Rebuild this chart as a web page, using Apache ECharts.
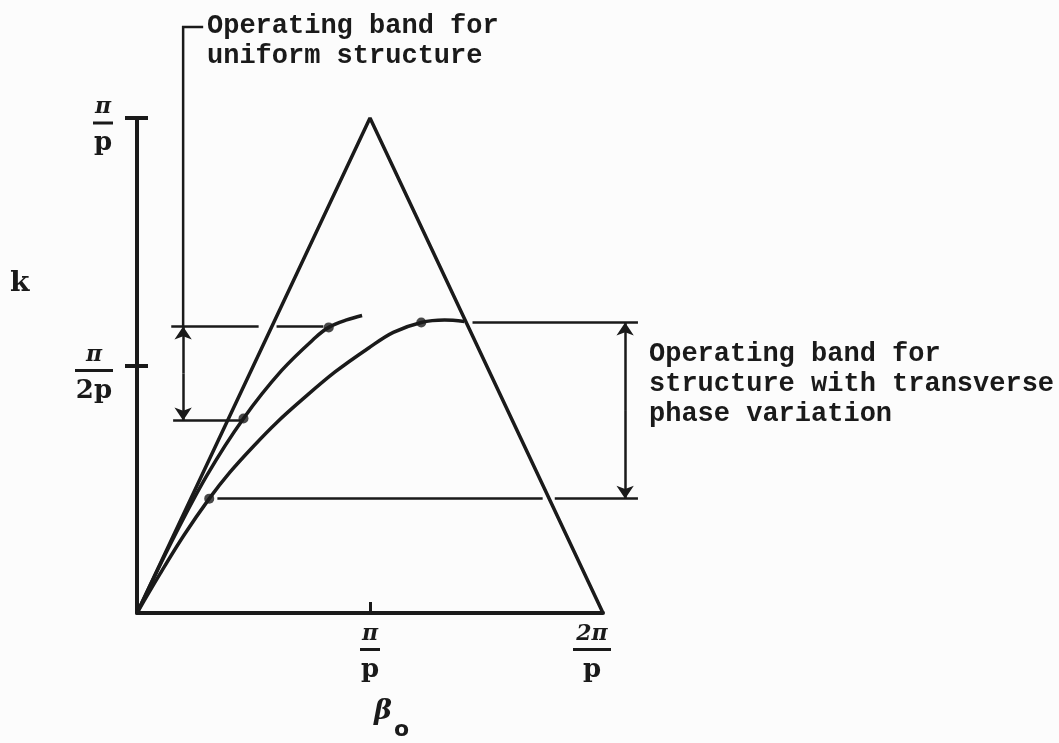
<!DOCTYPE html>
<html>
<head>
<meta charset="utf-8">
<title>Operating bands</title>
<script src="https://cdn.jsdelivr.net/npm/echarts@6/dist/echarts.min.js"></script>
<style>
  html, body { margin: 0; padding: 0; background: #fcfcfc; }
  #chart { width: 1059px; height: 743px; }
</style>
</head>
<body>
<div id="chart"></div>
<script>
// Axes in units of pi/p: beta_o runs 0..2, k runs 0..1
const xTickValues = [1, 2];
const xTickNumerators = ['π', '2π'];
const xTickDenominators = ['p', 'p'];
const yTickValues = [0.5, 1];
const yTickNumerators = ['π', 'π'];
const yTickDenominators = ['2p', 'p'];

// Light lines bounding the first zone
const lightLines = [[0, 0], [1, 1], [2, 0]];

// Dispersion curve, uniform structure
const uniformCurve = [
  [0, 0], [0.155, 0.15], [0.30, 0.278], [0.457, 0.393], [0.621, 0.490],
  [0.767, 0.557], [0.823, 0.577], [0.90, 0.592], [0.966, 0.601]
];

// Dispersion curve, structure with transverse phase variation
const transverseCurve = [
  [0, 0], [0.1, 0.08], [0.2, 0.156], [0.31, 0.231], [0.4, 0.285], [0.5, 0.337],
  [0.6, 0.385], [0.711, 0.432], [0.85, 0.487], [0.996, 0.536], [1.1, 0.567],
  [1.22, 0.587], [1.32, 0.592], [1.405, 0.589]
];

// Band edges where each curve meets its operating limits
const bandPoints = [[0.457, 0.393], [0.823, 0.577], [0.31, 0.231], [1.22, 0.587]];

// Operating band limits (k) and the x positions of their dimension arrows
const uniformBand = [0.389, 0.579];
const uniformArrowX = 0.198;
const transverseBand = [0.231, 0.587];
const transverseArrowX = 2.095;

// Horizontal limit lines, split where they cross the light line
const limitLines = [
  [[0.147, uniformBand[1]], [0.522, uniformBand[1]]],
  [[0.599, uniformBand[1]], [0.80, uniformBand[1]]],
  [[0.155, uniformBand[0]], [0.457, uniformBand[0]]],
  [[1.44, transverseBand[1]], [2.15, transverseBand[1]]],
  [[0.345, transverseBand[0]], [1.741, transverseBand[0]]],
  [[1.793, transverseBand[0]], [2.15, transverseBand[0]]]
];

// Leader from the uniform band up to its caption
const leader = [[uniformArrowX, uniformBand[1]], [uniformArrowX, 1.184], [0.284, 1.184]];

const ink = '#1a1a1a';
const mathFont = 'DejaVu Serif';
const typeFont = 'Liberation Mono';

function fraction(num, den, wide, shift) {
  const bar = wide ? 'barW' : 'bar';
  const sp = shift ? '{sp|}' : '';
  return '{n|' + num + '}' + sp + '\n{' + bar + '|}' + sp + '\n{d|' + den + '}' + sp;
}

const fracRich = {
  n: { fontFamily: mathFont, fontStyle: 'italic', fontWeight: 'bold', fontSize: 22, lineHeight: 18, color: ink, align: 'center' },
  bar: { width: 20, height: 3, lineHeight: 13, backgroundColor: ink, align: 'center' },
  barW: { width: 38, height: 3, lineHeight: 13, backgroundColor: ink, align: 'center' },
  d: { fontFamily: mathFont, fontWeight: 'bold', fontSize: 26, lineHeight: 28, color: ink, align: 'center' },
  sp: { width: 22, lineHeight: 6 }
};

const arrowLines = [
  { coords: [[uniformArrowX, 0.484], [uniformArrowX, uniformBand[1]]] },
  { coords: [[uniformArrowX, 0.484], [uniformArrowX, uniformBand[0]]] },
  { coords: [[transverseArrowX, 0.41], [transverseArrowX, transverseBand[1]]] },
  { coords: [[transverseArrowX, 0.41], [transverseArrowX, transverseBand[0]]] }
];

const chart = echarts.init(document.getElementById('chart'), null, { renderer: 'canvas' });

chart.setOption({
  backgroundColor: '#fcfcfc',
  animation: false,
  grid: { left: 137, right: 456, top: 118, bottom: 130, containLabel: false, outerBoundsMode: 'none' },
  xAxis: {
    type: 'value', min: 0, max: 2, interval: 1,
    splitLine: { show: false },
    axisLine: { lineStyle: { color: ink, width: 4 } },
    axisTick: { show: true, inside: true, length: 11, customValues: [0, 1], lineStyle: { color: ink, width: 3 } },
    axisLabel: {
      customValues: xTickValues, showMinLabel: true, showMaxLabel: true, hideOverlap: false,
      margin: 12, verticalAlign: 'top',
      formatter: function (v) {
        const i = xTickValues.indexOf(v);
        return i < 0 ? '' : fraction(xTickNumerators[i], xTickDenominators[i], i === 1, i === 1);
      },
      rich: fracRich
    }
  },
  yAxis: [{
    type: 'value', min: 0, max: 1, interval: 0.5,
    splitLine: { show: false },
    axisLine: { lineStyle: { color: ink, width: 4 } },
    axisTick: { show: true, length: 12, customValues: yTickValues, lineStyle: { color: ink, width: 4 } },
    axisLabel: {
      customValues: yTickValues, showMaxLabel: true, hideOverlap: false,
      margin: 24, align: 'right', verticalAlign: 'middle', padding: [20, 0, 0, 0],
      formatter: function (v) {
        const i = yTickValues.indexOf(v);
        return i < 0 ? '' : fraction(yTickNumerators[i], yTickDenominators[i], i === 0, false);
      },
      rich: fracRich
    }
  }, {
    type: 'value', min: 0, max: 1, interval: 0.5, position: 'left',
    splitLine: { show: false },
    axisLine: { show: false },
    axisLabel: { show: false },
    axisTick: { show: true, inside: true, length: 11, customValues: yTickValues, lineStyle: { color: ink, width: 4 } }
  }],
  graphic: [
    { type: 'text', left: 10, top: 270, style: { text: 'k', fontFamily: mathFont, fontWeight: 'bold', fontSize: 28, fill: ink } },
    { type: 'text', left: 374, top: 698, style: { text: 'β', fontFamily: mathFont, fontStyle: 'italic', fontWeight: 'bold', fontSize: 27, fill: ink } },
    { type: 'text', left: 394, top: 719, style: { text: 'o', fontFamily: 'DejaVu Sans', fontWeight: 'bold', fontSize: 22, fill: ink } },
    { type: 'text', left: 207, top: 11, style: { text: 'Operating band for\nuniform structure', fontFamily: typeFont, fontWeight: 'bold', fontSize: 27, lineHeight: 30, fill: ink } },
    { type: 'text', left: 649, top: 339, style: { text: 'Operating band for\nstructure with transverse\nphase variation', fontFamily: typeFont, fontWeight: 'bold', fontSize: 27, lineHeight: 30, fill: ink } }
  ],
  series: [
    {
      name: 'Light lines', type: 'line', data: lightLines, showSymbol: false,
      lineStyle: { color: ink, width: 3.5 }, z: 3
    },
    {
      name: 'Uniform structure', type: 'line', data: uniformCurve, smooth: 0.35, showSymbol: false,
      lineStyle: { color: ink, width: 3.5 }, z: 3
    },
    {
      name: 'Transverse phase variation', type: 'line', data: transverseCurve, smooth: 0.35, showSymbol: false,
      lineStyle: { color: ink, width: 3.5 }, z: 3
    },
    {
      name: 'Band edges', type: 'scatter', data: bandPoints, symbolSize: 10,
      itemStyle: { color: ink }, z: 4
    },
    {
      name: 'Limits', type: 'lines', coordinateSystem: 'cartesian2d', clip: false,
      data: limitLines.map(function (c) { return { coords: c }; }),
      lineStyle: { color: ink, width: 2.5, opacity: 1 }, z: 2
    },
    {
      name: 'Leader', type: 'lines', coordinateSystem: 'cartesian2d', clip: false, polyline: true,
      data: [{ coords: leader }],
      lineStyle: { color: ink, width: 2.5, opacity: 1 }, z: 2
    },
    {
      name: 'Band arrows', type: 'lines', coordinateSystem: 'cartesian2d', clip: false,
      symbol: ['none', 'arrow'], symbolSize: [9, 13],
      data: arrowLines,
      lineStyle: { color: ink, width: 2.5, opacity: 1 }, z: 2
    }
  ]
});
</script>
</body>
</html>
